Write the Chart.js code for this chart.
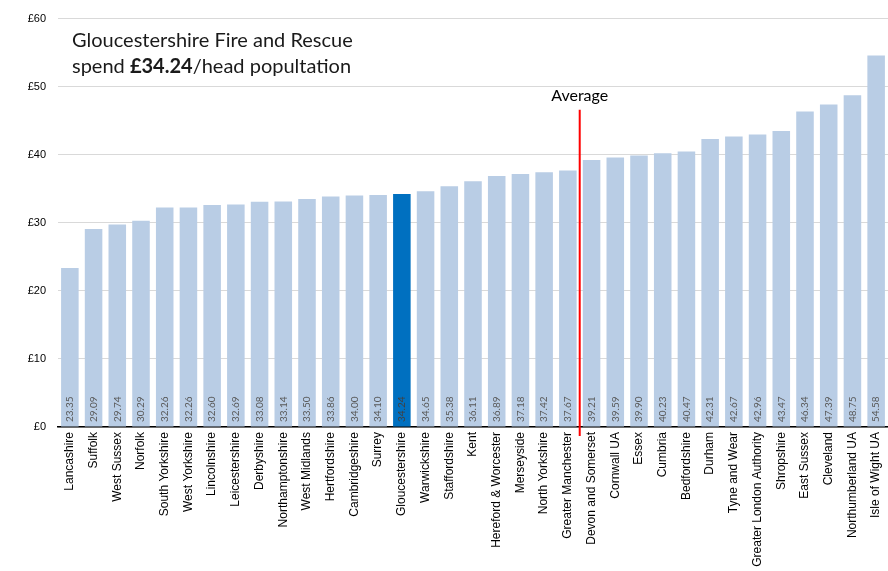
<!DOCTYPE html>
<html>
<head>
<meta charset="utf-8">
<script src="https://cdn.jsdelivr.net/npm/chart.js@4"></script>
<style>
  html, body { margin: 0; padding: 0; background: #fff; }
  #wrap { width: 888px; height: 571px; position: relative; }
</style>
</head>
<body>
<div id="wrap"><canvas id="spendChart"></canvas></div>
<script>
// 各消防局、每人支出
var services = ['Lancashire', 'Suffolk', 'West Sussex', 'Norfolk', 'South Yorkshire', 'West Yorkshire',
    'Lincolnshire', 'Leicestershire', 'Derbyshire', 'Northamptonshire', 'West Midlands', 'Hertfordshire',
    'Cambridgeshire', 'Surrey', 'Gloucestershire', 'Warwickshire', 'Staffordshire', 'Kent',
    'Hereford & Worcester', 'Merseyside', 'North Yorkshire', 'Greater Manchester', 'Devon and Somerset',
    'Cornwall UA', 'Essex', 'Cumbria', 'Bedfordshire', 'Durham', 'Tyne and Wear',
    'Greater London Authority', 'Shropshire', 'East Sussex', 'Cleveland', 'Northumberland UA', 'Isle of Wight UA'];
var spend = [23.35, 29.09, 29.74, 30.29, 32.26, 32.26, 32.60, 32.69, 33.08, 33.14, 33.50, 33.86,
    34.00, 34.10, 34.24, 34.65, 35.38, 36.11, 36.89, 37.18, 37.42, 37.67, 39.21,
    39.59, 39.90, 40.23, 40.47, 42.31, 42.67, 42.96, 43.47, 46.34, 47.39, 48.75, 54.58];
var yTicks = [0, 10, 20, 30, 40, 50, 60];
var highlight = 'Gloucestershire';
var averageAfter = 'Greater Manchester';
var averageTop = 46.6;

var barColors = services.map(function (s) {
    return s === highlight ? '#0070C0' : '#B9CDE5';
});

// 柱內數值
var valueLabels = {
    id: 'valueLabels',
    afterDatasetsDraw: function (chart) {
        var ctx = chart.ctx;
        var meta = chart.getDatasetMeta(0);
        var y = chart.scales.y;
        ctx.save();
        ctx.font = '10px Lato';
        ctx.textAlign = 'left';
        ctx.textBaseline = 'middle';
        meta.data.forEach(function (bar, i) {
            ctx.save();
            ctx.translate(bar.x, y.getPixelForValue(0) - 5);
            ctx.rotate(-Math.PI / 2);
            ctx.fillStyle = services[i] === highlight ? '#404040' : '#595959';
            ctx.fillText(spend[i].toFixed(2), 0, 0);
            ctx.restore();
        });
        ctx.restore();
    }
};

// 平均線、標題
var extras = {
    id: 'extras',
    afterDraw: function (chart) {
        var ctx = chart.ctx;
        var x = chart.scales.x;
        var y = chart.scales.y;
        var i = services.indexOf(averageAfter);
        var ax = (x.getPixelForValue(i) + x.getPixelForValue(i + 1)) / 2;
        ctx.save();
        ctx.strokeStyle = '#FF0000';
        ctx.lineWidth = 2;
        ctx.beginPath();
        ctx.moveTo(ax, y.getPixelForValue(averageTop));
        ctx.lineTo(ax, y.getPixelForValue(0) + 9);
        ctx.stroke();
        ctx.fillStyle = '#000';
        ctx.font = '16px Lato';
        ctx.textAlign = 'center';
        ctx.textBaseline = 'alphabetic';
        ctx.fillText('Average', ax, 101);

        ctx.textAlign = 'left';
        ctx.font = '20px Lato';
        ctx.fillStyle = '#1a1a1a';
        ctx.fillText('Gloucestershire Fire and Rescue', 72, 47);
        var line = ['spend ', '£34.24', '/head popultation'];
        var px = 72;
        line.forEach(function (t, k) {
            ctx.font = (k === 1 ? 'bold ' : '') + '20px Lato';
            ctx.fillText(t, px, 73);
            px += ctx.measureText(t).width;
        });
        ctx.restore();
    }
};

new Chart(document.getElementById('spendChart'), {
    type: 'bar',
    data: {
        labels: services,
        datasets: [{
            data: spend,
            backgroundColor: barColors,
            borderWidth: 0,
            barPercentage: 0.74,
            categoryPercentage: 1
        }]
    },
    options: {
        animation: false,
        responsive: true,
        maintainAspectRatio: false,
        layout: { padding: { top: 16, right: 0, bottom: 0, left: 0 } },
        plugins: { legend: { display: false }, tooltip: { enabled: false } },
        scales: {
            x: {
                grid: { display: false, drawTicks: false },
                border: { display: true, color: '#000', width: 1.5 },
                ticks: {
                    autoSkip: false,
                    maxRotation: 90,
                    minRotation: 90,
                    padding: 5,
                    color: '#000',
                    font: { family: 'Liberation Sans', size: 12 }
                },
                afterFit: function (scale) {
                    scale.height = 144;
                    scale.paddingLeft = 0;
                    scale.paddingRight = 0;
                }
            },
            y: {
                min: 0,
                max: 60,
                afterBuildTicks: function (scale) {
                    scale.ticks = yTicks.map(function (v) { return { value: v }; });
                },
                grid: { color: '#D9D9D9', drawTicks: false },
                border: { display: false },
                ticks: {
                    padding: 12,
                    color: '#000',
                    font: { family: 'Liberation Sans', size: 11 },
                    callback: function (value) { return '£' + value; }
                },
                afterFit: function (scale) { scale.width = 58; }
            }
        }
    },
    plugins: [valueLabels, extras]
});
</script>
</body>
</html>
